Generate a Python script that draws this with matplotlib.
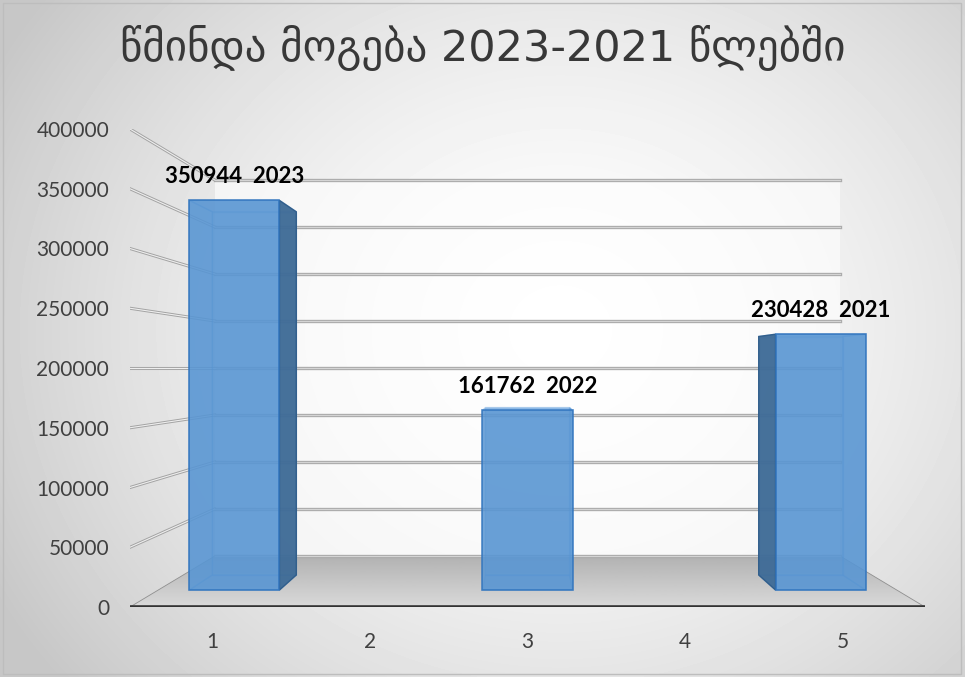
import numpy as np
import matplotlib
matplotlib.use("Agg")
import matplotlib.pyplot as plt
from matplotlib.patches import Polygon, Rectangle

# chart data
categories = [1, 2, 3, 4, 5]
profits = [350944, np.nan, 161762, np.nan, 230428]
years = ["2023", "", "2022", "", "2021"]
y_ticks = [0, 50000, 100000, 150000, 200000, 250000, 300000, 350000, 400000]
title = "წმინდა მოგება 2023-2021 წლებში"

# fake 3d: front plane is the axes data space, depth z in 0..1 shrinks
# everything toward a vanishing point
X_MIN, X_MAX = 0.48, 5.52
Y_MAX = 400000
VX, VY = 3.0, 200000
SHRINK = 0.213
BAR_W = 0.615
Z_FRONT, Z_BACK = 0.333, 0.629


def proj(x, y, z):
    s = 1 - SHRINK * z
    return VX + (x - VX) * s, VY + (y - VY) * s


def quad(pts):
    return [proj(*p) for p in pts]


fig = plt.figure(figsize=(9.65, 6.77), dpi=100)

# radial grey background
bg = fig.add_axes([0, 0, 1, 1], zorder=0)
yy, xx = np.mgrid[0:677, 0:965]
d = np.sqrt(((xx - 560) / 640.0) ** 2 + ((yy - 330) / 560.0) ** 2)
img = 1 - 0.22 * np.clip(d, 0, 1) ** 1.6
bg.imshow(img, cmap="gray", vmin=0, vmax=1, aspect="auto", extent=[0, 1, 0, 1])
bg.set_xlim(0, 1)
bg.set_ylim(0, 1)
bg.axis("off")
bg.add_patch(Rectangle((0.003, 0.005), 0.993, 0.99, fill=False,
                       edgecolor="#bdbdbd", lw=1.0))

ax = fig.add_axes([130 / 965, 70 / 677, 795 / 965, 478 / 677], zorder=1)
ax.patch.set_alpha(0)
for sp in ax.spines.values():
    sp.set_visible(False)

# floor with a soft gradient
floor_pts = quad([(X_MIN, 0, 0), (X_MAX, 0, 0), (X_MAX, 0, 1), (X_MIN, 0, 1)])
floor = Polygon(floor_pts, closed=True, facecolor="none", edgecolor="#8f8f8f",
                lw=0.6, zorder=1.5)
ax.add_patch(floor)
back_floor_y = proj(X_MIN, 0, 1)[1]
grad = np.linspace(0.85, 0.70, 50)[:, None]
im = ax.imshow(grad, cmap="gray", vmin=0, vmax=1, aspect="auto", origin="lower",
               extent=[X_MIN, X_MAX, 0, back_floor_y], zorder=1)
im.set_clip_path(floor)

# back wall
wall = Polygon(quad([(X_MIN, 0, 1), (X_MAX, 0, 1), (X_MAX, Y_MAX, 1), (X_MIN, Y_MAX, 1)]),
               closed=True, facecolor="white", alpha=0.6, lw=0, zorder=1)
ax.add_patch(wall)

# gridlines on the back wall and the slanted lines to the tick labels
for t in y_ticks:
    bx0, by0 = proj(X_MIN, t, 1)
    bx1, by1 = proj(X_MAX, t, 1)
    ax.plot([bx0, bx1], [by0, by1], color="#ababab", lw=2.4, zorder=2)
    ax.plot([bx0, bx1], [by0, by1], color="#d4d4d4", lw=0.8, zorder=2.1)
    if t > 0:
        fx, fy = proj(X_MIN, t, 0)
        ax.plot([fx, bx0], [fy, by0], color="#a3a3a3", lw=2.2, zorder=2)
        ax.plot([fx, bx0], [fy, by0], color="#eeeeee", lw=0.8, zorder=2.1)

ax.plot([X_MIN, X_MAX], [0, 0], color="#333333", lw=2.6, zorder=3,
        solid_capstyle="butt")

# bars as see-through boxes
s0 = 1 - SHRINK * Z_FRONT
for c, v, yr in zip(categories, profits, years):
    if np.isnan(v):
        continue
    xl, xr = c - BAR_W / 2, c + BAR_W / 2
    z0, z1 = Z_FRONT, Z_BACK
    back = quad([(xl, 0, z1), (xr, 0, z1), (xr, v, z1), (xl, v, z1)])
    left = quad([(xl, 0, z0), (xl, 0, z1), (xl, v, z1), (xl, v, z0)])
    right = quad([(xr, 0, z0), (xr, 0, z1), (xr, v, z1), (xr, v, z0)])
    top = quad([(xl, v, z0), (xr, v, z0), (xr, v, z1), (xl, v, z1)])
    bottom = quad([(xl, 0, z0), (xr, 0, z0), (xr, 0, z1), (xl, 0, z1)])

    for face in (back, bottom, top):
        ax.add_patch(Polygon(face, closed=True, facecolor="#6aa6e2", alpha=0.35,
                             edgecolor="#4a8fd6", lw=1.0, zorder=4))
    if c < VX:
        seen, hidden = right, left
    else:
        seen, hidden = left, right
    ax.add_patch(Polygon(hidden, closed=True, facecolor="#6aa6e2", alpha=0.3,
                         edgecolor="#4a8fd6", lw=1.0, zorder=4))
    if c != VX:
        ax.add_patch(Polygon(seen, closed=True, facecolor="#3f6b96", alpha=0.95,
                             edgecolor="#2e5c8a", lw=1.0, zorder=5))

    # front face
    fx = VX + (c - VX) * s0
    fb = VY * (1 - s0)
    ax.bar(fx, v * s0, width=BAR_W * s0, bottom=fb, color="#5895d2", alpha=0.85,
           edgecolor="#2f73bd", linewidth=1.2, zorder=6)

    ax.annotate(f"{v}  {yr}", xy=(fx, fb + v * s0), xytext=(0, 17),
                textcoords="offset points", ha="center", va="center",
                fontsize=16, fontweight="bold", family="Lato", color="black",
                zorder=10)

ax.set_xlim(X_MIN, X_MAX)
ax.set_ylim(0, Y_MAX)
ax.set_xticks(categories)
ax.set_xticklabels([str(c) for c in categories], family="Lato")
ax.set_yticks(y_ticks)
ax.set_yticklabels([str(t) for t in y_ticks], family="Lato")
ax.tick_params(length=0, labelsize=15, labelcolor="#404040")
ax.tick_params(axis="x", pad=18)
ax.tick_params(axis="y", pad=15)

fig.text(0.5, 0.929, title, ha="center", va="center", fontsize=31,
         color="#383838", family="DejaVu Sans")

fig.savefig("out.png", dpi=100)
